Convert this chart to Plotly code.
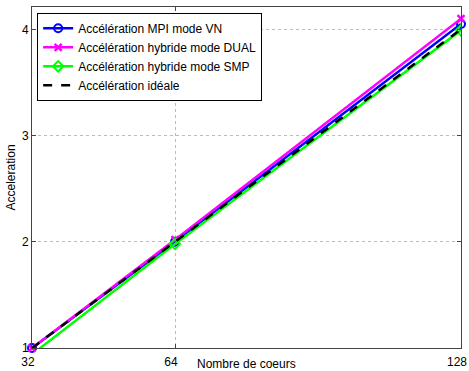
import plotly.graph_objects as go

coeurs = [32, 64, 128]
mpi_vn = [1.0, 2.0, 4.05]
hybride_dual = [1.0, 2.02, 4.10]
hybride_smp = [0.94, 1.98, 3.99]
ideale = [1.0, 2.0, 4.0]

x_ticks = [32, 64, 128]
y_ticks = [1, 2, 3, 4]

fig = go.Figure()
fig.add_trace(go.Scatter(x=coeurs, y=mpi_vn, name="Accélération MPI mode VN",
                         mode="lines+markers", line=dict(color="#0000ff", width=2.5), cliponaxis=False,
                         marker=dict(symbol="circle-open", size=8, color="#0000ff", line=dict(width=2))))
fig.add_trace(go.Scatter(x=coeurs, y=hybride_dual, name="Accélération hybride mode DUAL",
                         mode="lines+markers", line=dict(color="#ff00ff", width=2.5), cliponaxis=False,
                         marker=dict(symbol="x-thin-open", size=7, color="#ff00ff", line=dict(width=2.5, color="#ff00ff"))))
fig.add_trace(go.Scatter(x=coeurs, y=hybride_smp, name="Accélération hybride mode SMP",
                         mode="lines+markers", line=dict(color="#00ff00", width=2.5),
                         marker=dict(symbol="diamond-open", size=8, color="#00ff00", line=dict(width=2))))
fig.add_trace(go.Scatter(x=coeurs, y=ideale, name="Accélération idéale",
                         mode="lines", line=dict(color="black", width=2.5, dash="dash")))

axis_common = dict(showline=True, linecolor="#444444", linewidth=1, mirror="ticks",
                   ticks="inside", ticklen=4, tickcolor="#444444",
                   showgrid=True, gridcolor="#bbbbbb", griddash="dot", gridwidth=1,
                   zeroline=False, tickfont=dict(size=12, color="black"),
                   automargin=False, ticklabeloverflow="allow")

fig.update_layout(
    width=469, height=371,
    margin=dict(l=32, r=8, t=7, b=23),
    paper_bgcolor="white", plot_bgcolor="white",
    font=dict(family="Liberation Sans, Arial, sans-serif", size=12, color="black"),
    showlegend=True,
    legend=dict(x=0.012, y=0.983, xanchor="left", yanchor="top",
                bordercolor="black", borderwidth=1, bgcolor="white",
                font=dict(size=12), tracegroupgap=0, itemwidth=30),
    xaxis=dict(range=[32, 128], tickvals=x_ticks, ticktext=[str(v) for v in x_ticks],
               ticklabelshift=-4, ticklabelstandoff=3, **axis_common),
    yaxis=dict(range=[1, 4.21], tickvals=y_ticks, ticktext=[str(v) for v in y_ticks], **axis_common),
    annotations=[
        dict(text="Nombre de coeurs", xref="paper", yref="paper", x=0.5, y=-0.02,
             xanchor="center", yanchor="top", showarrow=False, font=dict(size=12)),
        dict(text="Acceleration", xref="paper", yref="paper", x=-0.049, y=0.5,
             xanchor="center", yanchor="middle", textangle=-90, showarrow=False, font=dict(size=12)),
    ],
)

fig.write_html("out.html", post_script="document.body.style.margin='0';",
               config={"displayModeBar": False})
